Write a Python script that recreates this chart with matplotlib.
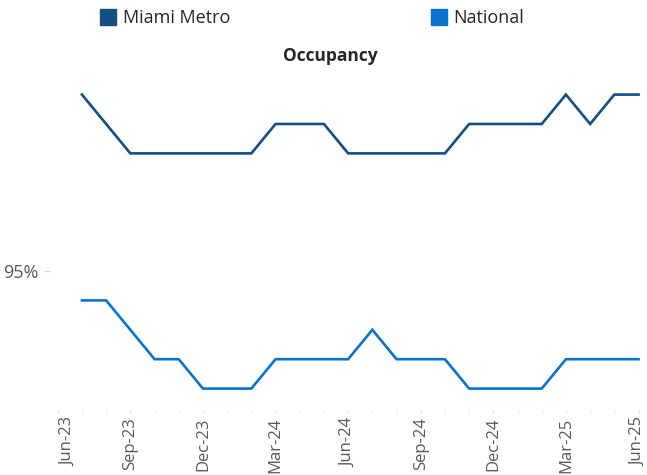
import matplotlib
matplotlib.use("Agg")
import matplotlib.pyplot as plt
import matplotlib.transforms as mtransforms
from matplotlib.lines import Line2D
from matplotlib.ticker import MultipleLocator, FuncFormatter

# monthly occupancy, Jul-23 .. Jun-25 (index 0 = Jul-23)
miami_metro = [98.0, 97.5, 97.0, 97.0, 97.0, 97.0, 97.0, 97.0, 97.5, 97.5, 97.5, 97.0,
               97.0, 97.0, 97.0, 97.0, 97.5, 97.5, 97.5, 97.5, 98.0, 97.5, 98.0, 98.0]
national = [94.5, 94.5, 94.0, 93.5, 93.5, 93.0, 93.0, 93.0, 93.5, 93.5, 93.5, 93.5,
            94.0, 93.5, 93.5, 93.5, 93.0, 93.0, 93.0, 93.0, 93.5, 93.5, 93.5, 93.5]
tick_labels = ["Jun-23", "Sep-23", "Dec-23", "Mar-24", "Jun-24",
               "Sep-24", "Dec-24", "Mar-25", "Jun-25"]
tick_pos = [-1, 2, 5, 8, 11, 14, 17, 20, 23]

c_miami = "#134E85"
c_nat = "#0A73CF"
grey = "#595959"

plt.rcParams["font.family"] = ["Open Sans", "DejaVu Sans"]

W, H = 647, 475
fig = plt.figure(figsize=(W / 100, H / 100), dpi=100)
ax = fig.add_axes([50 / W, (H - 409) / H, 590 / W, (409 - 75) / H])

x = list(range(len(miami_metro)))
ax.plot(x, miami_metro, color=c_miami, lw=1.9, solid_joinstyle="miter")
ax.plot(x, national, color=c_nat, lw=1.9, solid_joinstyle="miter")

ax.set_xlim(-1.32, 23.06)
ax.set_ylim(92.653, 98.333)

for s in ax.spines.values():
    s.set_visible(False)

ax.yaxis.set_major_locator(MultipleLocator(5))
ax.yaxis.set_major_formatter(FuncFormatter(lambda v, p: f"{v:.0f}%"))
ax.tick_params(axis="y", colors="#d9d9d9", labelcolor=grey, labelsize=13, length=4, pad=4)

ax.set_xticks(tick_pos)
ax.set_xticklabels(tick_labels, rotation=90)
ax.set_xticks(range(-1, 24), minor=True)
ax.tick_params(axis="x", which="both", colors="#e6e6e6", labelcolor=grey,
               labelsize=12, length=3, pad=3)

# first label sits a bit inside the plot edge
first = ax.get_xticklabels()[0]
first.set_transform(first.get_transform() +
                    mtransforms.ScaledTranslation(10 / 100, 0, fig.dpi_scale_trans))

fig.text(330 / W, 1 - 56 / H, "Occupancy", ha="center", va="center",
         fontsize=12.5, fontweight="bold", color="#262626")

handles = [Line2D([], [], marker="s", ls="none", markersize=11, color=c_miami, label="Miami Metro"),
           Line2D([], [], marker="s", ls="none", markersize=11, color=c_nat, label="National")]
fig.legend(handles=handles, ncol=2, loc="center left", bbox_to_anchor=(84 / W, 1 - 18 / H),
           frameon=False, fontsize=13, handlelength=0.9, handletextpad=0.35,
           columnspacing=11.1, labelcolor="#262626")

fig.savefig("out.png", dpi=100)
